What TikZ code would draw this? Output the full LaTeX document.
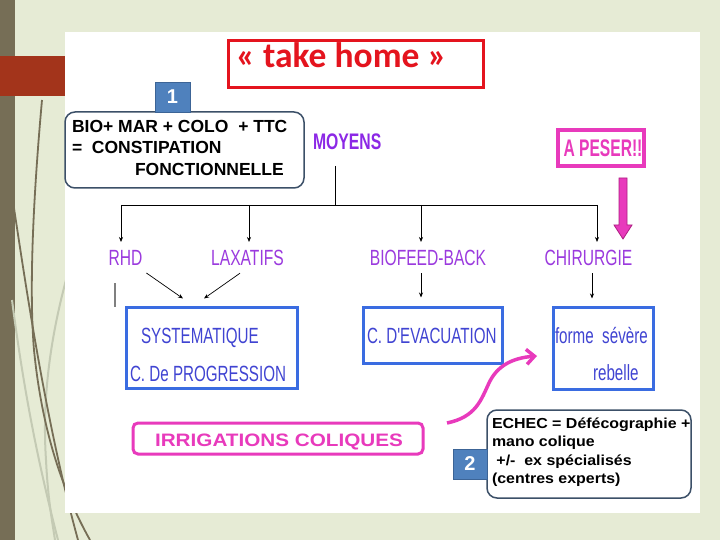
\documentclass[tikz,border=0pt]{standalone}
\usepackage{fontspec}
\setmainfont{Liberation Sans}
\newfontfamily\labfont[FakeStretch=0.71]{Liberation Sans}
\newfontfamily\bluefont[FakeStretch=0.69]{Liberation Sans}
\newfontfamily\moyfont[FakeStretch=0.70]{Liberation Sans Bold}
\newfontfamily\pesfont[FakeStretch=0.65]{Liberation Sans Bold}
\newfontfamily\irrfont[FakeStretch=1.15]{Liberation Sans Bold}
\newfontfamily\echfont[FakeStretch=1.1]{Liberation Sans Bold}
\newfontfamily\boxfont{Liberation Sans Bold}
\newfontfamily\titfont{Carlito Bold}
\usetikzlibrary{arrows.meta,calc}
\definecolor{bgc}{RGB}{230,235,213}
\definecolor{oliv}{RGB}{118,110,86}
\definecolor{rust}{RGB}{163,52,27}
\definecolor{purp}{RGB}{155,58,222}
\definecolor{moyc}{RGB}{140,40,230}
\definecolor{bluet}{RGB}{64,68,210}
\definecolor{blueb}{RGB}{58,108,225}
\definecolor{mag}{RGB}{232,58,188}
\definecolor{magd}{RGB}{175,30,130}
\definecolor{titred}{RGB}{228,20,30}
\definecolor{numb}{RGB}{79,129,189}
\definecolor{numbd}{RGB}{60,100,150}
\definecolor{rbord}{RGB}{60,80,104}
\definecolor{lgray}{RGB}{196,202,180}
\tikzset{
  plain/.style={inner sep=0pt, outer sep=0pt},
  lab/.style={plain, text=purp, anchor=base, font={\labfont\fontsize{22}{24}\selectfont}},
  btxt/.style={plain, text=bluet, anchor=base west, font={\bluefont\fontsize{22}{24}\selectfont}},
  bbox/.style={draw=blueb, line width=3pt, inner sep=0pt},
  rbox/.style={draw=rbord, line width=1.5pt, rounded corners=10pt, fill=white, inner sep=0pt},
  numbox/.style={fill=numb, draw=numbd, line width=0.6pt, text=white, inner sep=0pt,
    minimum width=35pt, minimum height=30pt, font={\boxfont\fontsize{20}{22}\selectfont}},
  b1txt/.style={plain, anchor=base west, font={\boxfont\fontsize{17.5}{19}\selectfont}},
  b2txt/.style={plain, anchor=base west, font={\echfont\fontsize{14.5}{17}\selectfont}},
  arr/.style={-{Stealth[length=5pt,width=4pt]}, line width=0.7pt},
}
\begin{document}
\begin{tikzpicture}[x=1pt,y=-1pt]
\useasboundingbox (0,0) rectangle (720,540);
% slide background
\fill[bgc] (0,0) rectangle (720,540);
\fill[oliv] (0,0) rectangle (15,540);
\fill[rust] (0,56) rectangle (65,96);
% decorative strokes
\draw[lgray, line width=2pt] (12,300) .. controls (25,400) and (40,470) .. (58,540);
\draw[lgray, line width=2pt] (66,280) .. controls (50,340) and (42,400) .. (46,460) .. controls (48,500) and (52,520) .. (55,540);
\draw[oliv, line width=1.8pt] (42,100) .. controls (33,200) and (29,290) .. (34,350) .. controls (42,430) and (62,490) .. (90,540);
\draw[oliv, line width=1.8pt] (12,195) .. controls (25,280) and (45,420) .. (78,540);
% white panel
\fill[white] (65,32) rectangle (700,513);

% title
\node[draw=titred, line width=3pt, minimum width=255pt, minimum height=47pt, inner sep=0pt] (titbox) at (355.5,64.5) {};
\node[plain, anchor=base west, text=titred, font={\titfont\fontsize{35.5}{38}\selectfont}] (tit) at (236,68) {« take home »};

% box 1
\node[rbox, minimum width=239pt, minimum height=76pt] (box1) at (184.5,150) {};
\node[numbox] (n1) at (172.5,97) {1};
\node[b1txt] (b1l1) at (72,133) {BIO+ MAR + COLO~~+ TTC};
\node[b1txt] (b1l2) at (72,154) {=~~CONSTIPATION};
\node[b1txt] (b1l3) at (135,176) {FONCTIONNELLE};

% MOYENS
\node[plain, anchor=base west, text=moyc, font={\moyfont\fontsize{22.5}{24}\selectfont}] (moy) at (313,150) {MOYENS};
\coordinate (mtop) at (335,166);
\coordinate (jn) at (335,205);
\coordinate (hl) at (121,205);
\coordinate (hr) at (597,205);
\draw[line width=0.7pt] (mtop) -- (jn);
\draw[line width=0.7pt] (hl) -- (hr);

% A PESER
\node[draw=mag, line width=4pt, minimum width=86pt, minimum height=36pt, inner sep=0pt] (pesbox) at (601,148) {};
\node[plain, anchor=base, text=mag, font={\pesfont\fontsize{24}{26}\selectfont}] (pes) at (603,157) {A PESER!!};
\filldraw[fill=mag, draw=magd, line width=0.8pt] (619,178) -- (627,178) -- (627,225) -- (632,225) -- (623,239) -- (614,225) -- (619,225) -- cycle;

% labels
\node[lab] (rhd) at (125.5,265) {RHD};
\node[lab] (lax) at (247.5,265) {LAXATIFS};
\node[lab] (bio) at (428,265) {BIOFEED-BACK};
\node[lab] (chir) at (588.5,265) {CHIRURGIE};

\draw[arr] (hl) -- (hl |- 0,242);
\draw[arr] (249,205) -- (249,242);
\draw[arr] (421,205) -- (421,242);
\draw[arr] (hr) -- (hr |- 0,242);

% blue boxes
\node[bbox, minimum width=171pt, minimum height=81pt] (syst) at (211.5,347.5) {};
\node[btxt] (syst1) at (141,343) {SYSTEMATIQUE};
\node[btxt] (syst2) at (130,381) {C. De PROGRESSION};
\node[bbox, minimum width=139pt, minimum height=56pt] (evac) at (432.5,335) {};
\node[btxt] (evac1) at (367,343) {C. D'EVACUATION};
\node[bbox, minimum width=100pt, minimum height=82pt] (forme) at (603,348) {};
\node[btxt] (forme1) at (555,343) {forme~~sévère};
\node[btxt] (forme2) at (593,380) {rebelle};

\draw[gray, line width=1.8pt] (115,283) -- (115,307);

\draw[arr] ($(rhd.south east)+(4,8)$) -- ($(syst.north)+(-28.5,-7)$);
\draw[arr] ($(lax.south)+(-7.5,8)$) -- ($(syst.north)+(-7.5,-7)$);
\draw[arr] ($(bio.south)+(-7,8)$) -- ($(evac.north)+(-11.5,-8)$);
\draw[arr] ($(chir.south)+(3.5,8)$) -- ($(forme.north)+(-11,-7)$);

% irrigations
\node[draw=mag, line width=3pt, rounded corners=5pt, minimum width=290pt, minimum height=31pt, inner sep=0pt] (irrbox) at (278,438.5) {};
\node[plain, anchor=base west, text=mag, font={\irrfont\fontsize{18}{20}\selectfont}] (irr) at (155,446) {IRRIGATIONS COLIQUES};

% curved arrow
\coordinate (cs) at (447,423);
\coordinate (ce) at (537,356);
\draw[mag, line width=3.5pt, -{Straight Barb[length=8pt,width=15pt]}] (cs) .. controls (476,417) and (481,400) .. (489,383) .. controls (497,366) and (512,358) .. (ce);

% box 2
\node[rbox, minimum width=204pt, minimum height=88pt] (box2) at (589,454) {};
\node[numbox, minimum width=34pt] (n2) at (470,464) {2};
\node[b2txt] (b2l1) at (492,428) {ECHEC = Défécographie +};
\node[b2txt] (b2l2) at (492,446.5) {mano colique};
\node[b2txt] (b2l3) at (492,465) {~+/-~~ex spécialisés};
\node[b2txt] (b2l4) at (492,483.5) {(centres experts)};
\end{tikzpicture}
\end{document}
